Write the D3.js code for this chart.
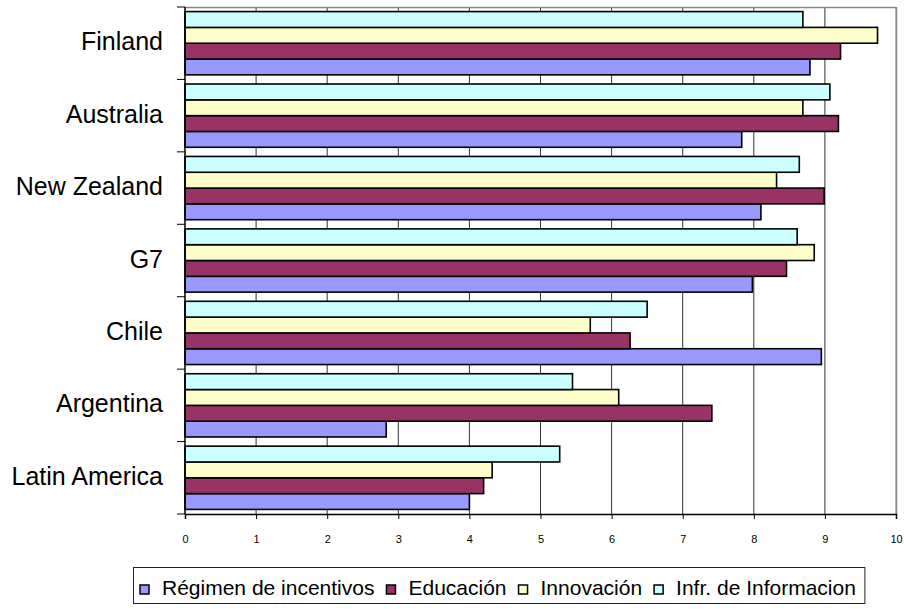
<!DOCTYPE html>
<html><head><meta charset="utf-8">
<script src="https://cdn.jsdelivr.net/npm/d3@7"></script>
<style>body{margin:0;background:#fff}svg{display:block}text{font-family:"Liberation Sans",Arial,sans-serif}</style>
</head><body><svg id="c" width="904" height="609"></svg>
<script>
const categories = ["Finland","Australia","New Zealand","G7","Chile","Argentina","Latin America"];
const seriesNames = ["Régimen de incentivos","Educación","Innovación","Infr. de Informacion"];
const seriesColors = ["#9999FF","#993366","#FFFFCC","#CCFFFF"];
const regimen   = [8.79, 7.83, 8.10, 7.98, 8.95, 2.83, 4.00];
const educacion = [9.22, 9.19, 8.99, 8.46, 6.26, 7.41, 4.20];
const innovacion= [9.74, 8.69, 8.32, 8.85, 5.70, 6.10, 4.32];
const infr      = [8.69, 9.07, 8.64, 8.61, 6.50, 5.45, 5.27];
const xTicks = [0,1,2,3,4,5,6,7,8,9,10];
const seriesValues = [regimen, educacion, innovacion, infr];

const svg = d3.select("#c");
const L=185, R=896, T=7, B=514;
const x = d3.scaleLinear().domain([0,10]).range([L,R]);
const y = d3.scaleBand().domain(categories).range([T,B]);
// within band: top-down order Infr, Innov, Educ, Reg
const inner = d3.scaleBand().domain([3,2,1,0]).range([0,y.bandwidth()]).paddingOuter(0.29).paddingInner(0);

// grid
svg.append("g").selectAll("line").data(xTicks.slice(1)).join("line")
  .attr("x1",d=>x(d)).attr("x2",d=>x(d)).attr("y1",T).attr("y2",B)
  .attr("stroke",d=>d===10?"#888":"#333").attr("stroke-width",1);
// frame top / right
svg.append("line").attr("x1",L).attr("x2",R).attr("y1",T+0.5).attr("y2",T+0.5).attr("stroke","#888").attr("stroke-width",1.5);
svg.append("line").attr("x1",R+0.5).attr("x2",R+0.5).attr("y1",T).attr("y2",B).attr("stroke","#888").attr("stroke-width",1.5);

// bars
seriesValues.forEach((vals,si)=>{
  svg.append("g").selectAll("rect").data(categories).join("rect")
    .attr("x",x(0)).attr("y",(c)=>y(c)+inner(si))
    .attr("width",(c,i)=>x(vals[i])-x(0)).attr("height",inner.bandwidth())
    .attr("fill",seriesColors[si]).attr("stroke","#000").attr("stroke-width",1.6);
});

// x axis
const xAxis = d3.axisBottom(x).tickValues(xTicks).tickSize(5).tickFormat(d3.format("d"));
const gx = svg.append("g").attr("transform",`translate(0,${B})`).call(xAxis);
gx.select(".domain").attr("stroke","#000").attr("stroke-width",1.5);
gx.selectAll(".tick line").attr("stroke","#000");
gx.selectAll(".tick text").attr("font-size",11).attr("dy","1.9em").attr("fill","#000").style("font-family","Liberation Sans, Arial, sans-serif");

// left axis with boundary ticks
svg.append("line").attr("x1",L).attr("x2",L).attr("y1",T).attr("y2",B).attr("stroke","#000").attr("stroke-width",1.5);
const bounds = categories.map(c=>y(c)).concat([B]);
svg.append("g").selectAll("line").data(bounds).join("line")
  .attr("x1",L-8).attr("x2",L).attr("y1",d=>d).attr("y2",d=>d).attr("stroke","#000").attr("stroke-width",1);
svg.append("g").selectAll("text").data(categories).join("text")
  .attr("x",163).attr("y",c=>y(c)+y.bandwidth()/2+7).attr("text-anchor","end")
  .attr("font-size",25).attr("fill","#000").text(c=>c);

// legend
const lg = svg.append("g");
const box = lg.append("rect").attr("x",133.5).attr("y",567.5).attr("height",36).attr("fill","#fff").attr("stroke","#222").attr("stroke-width",1);
let cx = 140;
seriesNames.forEach((n,i)=>{
  lg.append("rect").attr("x",cx).attr("y",585).attr("width",9).attr("height",9)
    .attr("fill",seriesColors[i]).attr("stroke","#000").attr("stroke-width",1.5);
  const t = lg.append("text").attr("x",cx+22).attr("y",595).attr("font-size",21).attr("fill","#000").text(n);
  const end = cx+22+t.node().getComputedTextLength();
  cx = end+12;
  if(i===seriesNames.length-1) box.attr("width",end+9-133.5);
});
</script></body></html>
